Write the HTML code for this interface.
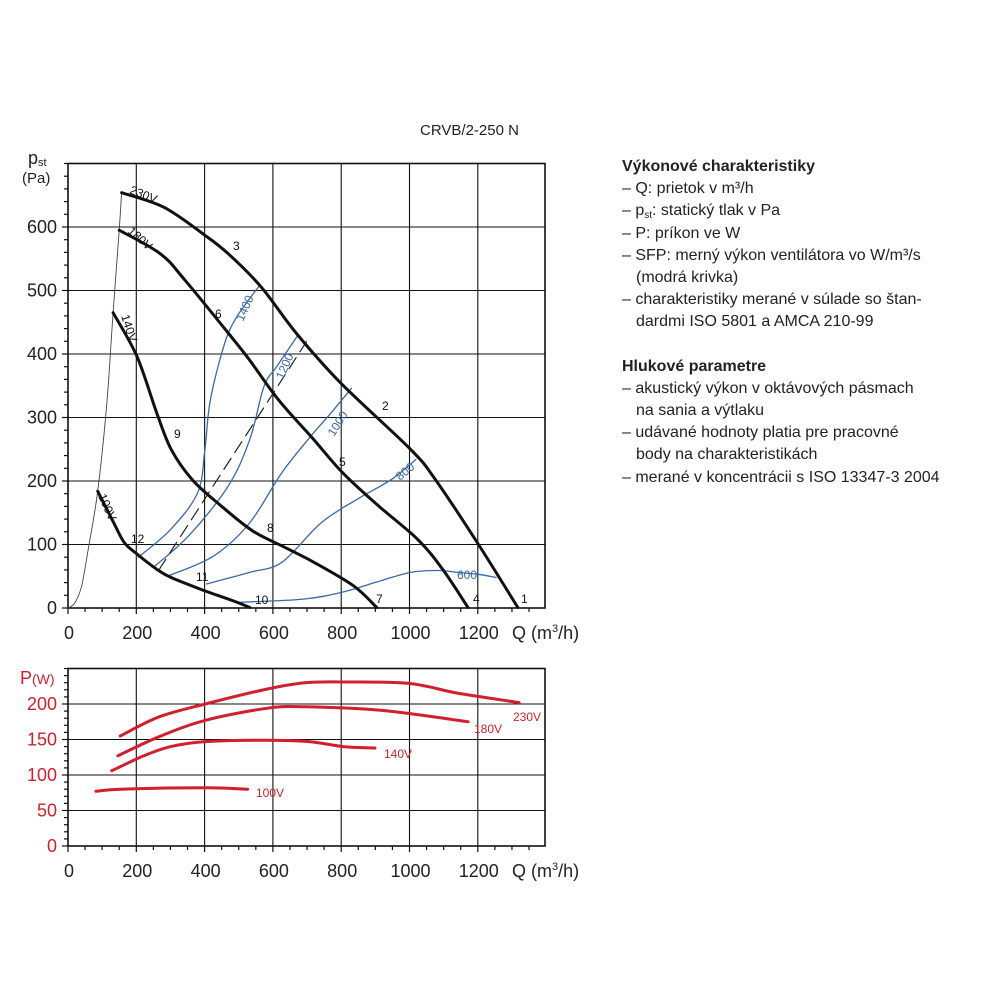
<!DOCTYPE html>
<html><head><meta charset="utf-8">
<style>
html,body{margin:0;padding:0;background:#fff;}
svg{display:block;font-family:"Liberation Sans",sans-serif;}
.info{position:absolute;left:622px;top:156px;font-family:"Liberation Sans",sans-serif;font-size:16px;color:#222;line-height:22.2px;}
.info b{font-weight:bold;}
.info div{white-space:nowrap;height:22.2px;}
.info sub{font-size:10px;line-height:0;vertical-align:-3px;}
</style></head>
<body>
<div style="position:relative;width:1000px;height:1000px;overflow:hidden">
<svg id="chart" width="1000" height="1000" viewBox="0 0 1000 1000">
<text x="420" y="135" font-size="15" fill="#222">CRVB/2-250 N</text>
<g id="upper"></g>
<g id="lower"></g>
</svg>
<div class="info">
<div><b>Výkonové charakteristiky</b></div>
<div>– Q: prietok v m³/h</div>
<div>– p<sub>st</sub>: statický tlak v Pa</div>
<div>– P: príkon ve W</div>
<div>– SFP: merný výkon ventilátora vo W/m³/s</div>
<div style="padding-left:14px">(modrá krivka)</div>
<div>– charakteristiky merané v súlade so štan-</div>
<div style="padding-left:14px">dardmi ISO 5801 a AMCA 210-99</div>
<div></div>
<div><b>Hlukové parametre</b></div>
<div>– akustický výkon v oktávových pásmach</div>
<div style="padding-left:14px">na sania a výtlaku</div>
<div>– udávané hodnoty platia pre pracovné</div>
<div style="padding-left:14px">body na charakteristikách</div>
<div>– merané v koncentrácii s ISO 13347-3 2004</div>
</div>
</div>
<script>
// ---- data: upper chart (Q m3/h, p Pa)
const xTicks = [0,200,400,600,800,1000,1200];
const pTicks = [0,100,200,300,400,500,600];
const wTicks = [0,50,100,150,200];
const q230 = [157,281,401,469,565,668,799,1003,1076,1202,1317];
const p230 = [654,631,587,558,506,433,354,250,202,100,1];
const q180 = [150,270,343,469,531,616,720,804,909,1024,1097,1171];
const p180 = [595,558,516,433,391,328,265,213,161,108,61,1];
const q140 = [132,202,260,302,364,448,542,637,720,836,904];
const p140 = [465,396,307,250,202,161,121,95,72,35,1];
const q100 = [87,134,165,202,260,302,401,480,532];
const p100 = [184,134,103,85,61,48,27,12,1];
const qSys = [0,20,40,60,87,113,132,150,157];
const pSys = [0,8,35,95,184,318,465,595,654];
const qDash = [265,699];
const pDash = [59,420];
const q1400 = [206,301,380,401,417,459,495,558];
const p1400 = [80,124,182,250,328,417,459,506];
const q1200 = [250,354,469,532,574,611,674];
const p1200 = [64,114,192,265,349,380,430];
const q1000 = [296,427,532,626,710,762,830];
const p1000 = [51,82,134,213,270,302,346];
const q800 = [406,532,626,741,846,946,1019];
const p800 = [38,56,72,134,171,202,234];
const q600 = [500,689,804,898,1003,1087,1139,1202,1254];
const p600 = [9,14,25,40,56,59,56,53,48];
// ---- data: lower chart (Q, P W)
const wq230 = [153,267,402,582,694,807,998,1144,1321];
const w230 = [155,182,200,221,230,231,229,215,202];
const wq180 = [146,267,402,582,694,919,1172];
const w180 = [127,154,177,194,196,191,175];
const wq140 = [128,222,301,402,582,706,807,899];
const w140 = [106,127,140,147,149,147,140,138];
const wq100 = [82,155,402,526];
const w100 = [77,80,82,80];

const NS="http://www.w3.org/2000/svg";
const X0=68, XS=68.3/200, XR=545;
const xS=q=>X0+q*XS;
const yU=p=>608-p*0.635;
const yL=w=>846-w*0.71;

function mk(tag,attrs,parent){const e=document.createElementNS(NS,tag);for(const k in attrs)e.setAttribute(k,attrs[k]);parent.appendChild(e);return e;}
function smooth(xs,ys){
  let d=`M${xs[0].toFixed(1)},${ys[0].toFixed(1)}`;
  for(let i=0;i<xs.length-1;i++){
    const x0=xs[Math.max(i-1,0)],y0=ys[Math.max(i-1,0)],x1=xs[i],y1=ys[i],x2=xs[i+1],y2=ys[i+1],x3=xs[Math.min(i+2,xs.length-1)],y3=ys[Math.min(i+2,xs.length-1)];
    const c1x=x1+(x2-x0)/6,c1y=y1+(y2-y0)/6,c2x=x2-(x3-x1)/6,c2y=y2-(y3-y1)/6;
    d+=` C${c1x.toFixed(1)},${c1y.toFixed(1)} ${c2x.toFixed(1)},${c2y.toFixed(1)} ${x2.toFixed(1)},${y2.toFixed(1)}`;
  }
  return d;
}
function txt(s,x,y,attrs,parent){const t=mk('text',Object.assign({x:x,y:y},attrs),parent);t.textContent=s;return t;}

const U=document.getElementById('upper'), L=document.getElementById('lower');

function frame(g,yf,top,bottom,vmax,minorStep,ticks,labelColor){
  for(const q of xTicks){ if(q>0){ const l=mk('line',{x1:xS(q),x2:xS(q),y1:top,y2:bottom,stroke:'#111','stroke-width':1.1},g);
     }}
  for(const v of ticks){ if(v>0){ const l=mk('line',{x1:X0,x2:XR,y1:yf(v),y2:yf(v),stroke:'#111','stroke-width':1.1},g);
     }}
  const r=mk('rect',{x:X0,y:top,width:XR-X0,height:bottom-top,fill:'none',stroke:'#111','stroke-width':1.6},g);
   
  for(let v=0;v<=vmax+0.01;v+=minorStep){ const major=ticks.includes(Math.round(v));
    mk('line',{x1:X0-(major?6:4),x2:X0,y1:yf(v),y2:yf(v),stroke:'#111','stroke-width':1.2},g);}
  for(let q=0;q<=1400;q+=50){ if(xS(q)>XR)break; const major=q%200===0;
    mk('line',{x1:xS(q),x2:xS(q),y1:bottom,y2:bottom+(major?6:4),stroke:'#111','stroke-width':1.2},g);}
  for(const v of ticks){ const t=txt(String(v),57,yf(v)+6,{'font-size':18,'text-anchor':'end',fill:labelColor},g);
     }
  for(const q of xTicks){ const t=txt(String(q),xS(q)+1,bottom+31,{'font-size':18,'text-anchor':'middle',fill:'#222'},g);
     }
  const xt=txt('',512,bottom+31,{'font-size':18,fill:'#222'},g);
  xt.innerHTML='Q (m<tspan font-size="11" dy="-7">3</tspan><tspan dy="7">/h)</tspan>';
   
}
frame(U,yU,163.5,608,700,20,pTicks,'#222');
frame(L,yL,668.5,846,250,10,wTicks,'#d0202e');

let t=txt('',28,164,{'font-size':18,fill:'#222'},U); t.innerHTML='p<tspan font-size="11" dy="2">st</tspan>';
 
t=txt('(Pa)',22,183,{'font-size':15,fill:'#222'},U);
 
t=txt('',20,684,{'font-size':18,fill:'#d0202e'},L); t.innerHTML='P<tspan font-size="14">(W)</tspan>';
 

function curve(g,qs,vs,yf,style,name){
  const p=mk('path',Object.assign({d:smooth(qs.map(xS),vs.map(yf)),fill:'none','stroke-linecap':'round','stroke-linejoin':'round'},style),g);
    return p;
}
const blue={stroke:'#3a68a8','stroke-width':1.3};
curve(U,q1400,p1400,yU,blue,'sfp-1400-line');
curve(U,q1200,p1200,yU,blue,'sfp-1200-line');
curve(U,q1000,p1000,yU,blue,'sfp-1000-line');
curve(U,q800,p800,yU,blue,'sfp-800-line');
curve(U,q600,p600,yU,blue,'sfp-600-line');
let dl=mk('line',{x1:xS(qDash[0]),y1:yU(pDash[0]),x2:xS(qDash[1]),y2:yU(pDash[1]),stroke:'#222','stroke-width':1.2,'stroke-dasharray':'14,6'},U);
 
curve(U,qSys,pSys,yU,{stroke:'#444','stroke-width':0.9},'system-limit-curve');
const blk={stroke:'#111','stroke-width':3};
curve(U,q230,p230,yU,blk,'curve-230v');
curve(U,q180,p180,yU,blk,'curve-180v');
curve(U,q140,p140,yU,blk,'curve-140v');
curve(U,q100,p100,yU,blk,'curve-100v');

function lab(s,x,y,rot,attrs,g,name){
  const e=txt(s,x,y,Object.assign({transform:`rotate(${rot} ${x} ${y})`},attrs),g);
   
}
const vl={'font-size':12,fill:'#111'};
lab('230V',129,193,22,vl,U,'label-230v');
lab('180V',127,232,42,vl,U,'label-180v');
lab('140V',121,316,72,vl,U,'label-140v');
lab('100V',98,496,66,vl,U,'label-100v');
const bl={'font-size':12,fill:'#3a68a8'};
lab('1400',243,322,-66,bl,U,'label-sfp-1400');
lab('1200',283,380,-66,bl,U,'label-sfp-1200');
lab('1000',334,437,-58,bl,U,'label-sfp-1000');
lab('800',400,481,-40,bl,U,'label-sfp-800');
lab('600',457,579,0,bl,U,'label-sfp-600');
const pts=[['1',521,603],['2',382,410],['3',233,250],['4',473,603],['5',339,466],['6',215,318],['7',376,603],['8',267,532],['9',174,438],['10',255,604],['11',196,581],['12',131,543]];
for(const [s,x,y] of pts){ lab(s,x,y,0,{'font-size':12,fill:'#111'},U,'point-label-'+s); }

const red={stroke:'#d0202e','stroke-width':3};
curve(L,wq230,w230,yL,red,'power-230v');
curve(L,wq180,w180,yL,red,'power-180v');
curve(L,wq140,w140,yL,red,'power-140v');
curve(L,wq100,w100,yL,red,'power-100v');
const rl={'font-size':12,fill:'#d0202e'};
lab('230V',513,721,0,rl,L,'power-label-230v');
lab('180V',474,733,0,rl,L,'power-label-180v');
lab('140V',384,758,0,rl,L,'power-label-140v');
lab('100V',256,797,0,rl,L,'power-label-100v');
</script>
</body></html>
